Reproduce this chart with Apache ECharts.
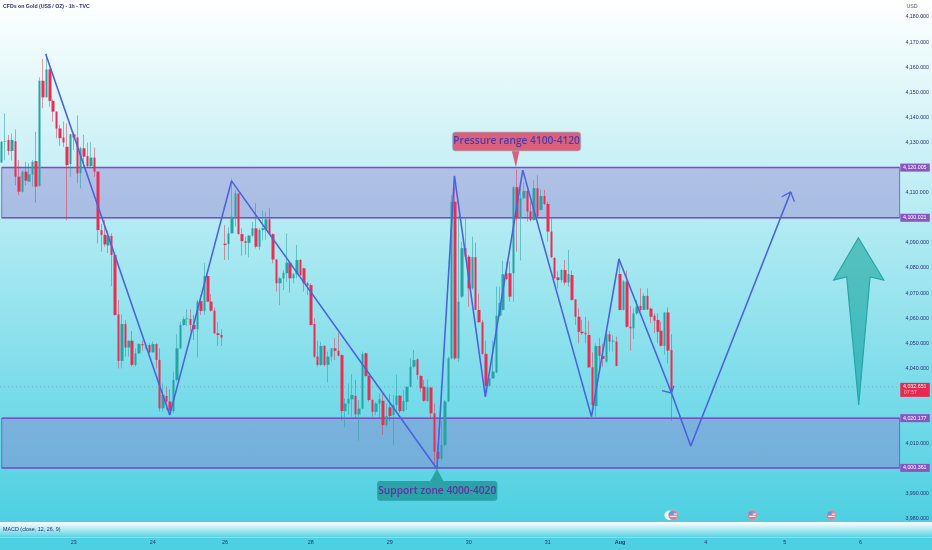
<!DOCTYPE html>
<html>
<head>
<meta charset="utf-8">
<style>
html,body{margin:0;padding:0;background:#4ed0e2}
#c{width:932px;height:550px;background:linear-gradient(#ffffff 0,#4dd0e2 522px,#4dd0e2 550px)}
</style>
<script src="https://cdn.jsdelivr.net/npm/echarts@6/dist/echarts.min.js"></script>
</head>
<body>
<div id="c"></div>
<script>
const opens=[
4122,4130.3,4131,4126.6,4130.5,4116.4,4110.4,4118.4,4114.4,4117.3,
4122.6,4112.7,4154.6,4148,4159.1,4146.6,4142.3,4135.6,4132,4128.3,
4121.4,4133.3,4132,4117.7,4127.7,4124.6,4120.6,4124,4118.4,4095.1,
4093.2,4089,4092.8,4085.2,4061.5,4043,4057.7,4048.3,4051,4041.4,
4046,4049.7,4049.2,4049.3,4046.4,4049.7,4043.4,4024.1,4029,4026.8,
4023,4035.4,4048,4057.3,4059.6,4059.7,4057.3,4055.6,4066.8,4062.9,
4076.8,4066.6,4063,4054,4053.3,4089.7,4089.5,4093.8,4100.4,4109.7,
4093.5,4090.7,4090,4092.9,4095.8,4088.5,4095.1,4095.4,4099.4,4093.5,
4083.4,4073.9,4075.9,4077.9,4082.1,4075.9,4077.5,4083.2,4079.9,4073.9,
4073.2,4057.7,4044.7,4041.4,4049,4041.4,4044.7,4048,4047,4045.3,
4023,4026,4027.7,4029,4021.7,4024,4046,4037,4027.4,4022.7,
4026,4027.1,4017.4,4024.5,4021.4,4025.4,4029.1,4023,4026.7,4032.7,
4040.7,4043.6,4037,4032.7,4027,4032.4,4022.1,4006.8,4004,4009.5,
4026.8,4044,4106.4,4044,4068.6,4087.9,4084.5,4071.9,4084.3,4063.3,
4058.4,4045.8,4033,4036,4038.4,4061,4063.3,4077.9,4077.9,4077.9,
4112.2,4099.8,4107.8,4110.7,4102.5,4099.1,4111.8,4103.1,4108.7,4105.5,
4094.5,4084,4076.3,4075.2,4079.2,4074.2,4077.2,4067.5,4060.6,4054.6,
4054.2,4053.3,4040.4,4025,4048.9,4045,4042.7,4053.6,4050.7,4050.7,
4077.6,4063.3,4074.6,4056.6,4056,4061.9,4064.9,4063.3,4068.9,4063.8,
4061,4059.3,4055,4049,4062.3,4047.3];
const closes=[
4130.3,4130.5,4126.6,4131,4116.4,4110.4,4118.4,4114.8,4117.3,4122.3,
4112.4,4154.6,4148,4159.1,4146.6,4142.3,4135.6,4131.7,4130,4121,
4133.3,4132,4117.7,4127.7,4124.4,4120.6,4124,4118.4,4095.1,4093.2,
4089.4,4092.8,4085.2,4061.3,4043,4057.7,4048.3,4051,4041.4,4046,
4049.7,4049.2,4049.3,4046.4,4049.7,4043.4,4024.1,4029.4,4026.8,4023.2,
4035.4,4048,4057.3,4059.6,4059.9,4057.3,4055.6,4066.6,4062.9,4076.8,
4066.6,4063,4054,4053.3,4052.3,4089.2,4093.8,4100.4,4109.7,4093.5,
4090.7,4090,4092.9,4095.8,4088.5,4095.1,4095.8,4099.4,4093.5,4083.4,
4073.9,4075.9,4078.1,4082.2,4075.9,4077.5,4083.2,4077.2,4073.9,4073,
4057.3,4044.7,4041.4,4048.9,4041.4,4044.7,4048,4047,4045.1,4023,
4026,4027.9,4029.4,4021.7,4024,4045.7,4037,4027.4,4022.7,4026,
4027.7,4017.4,4021,4021,4025.4,4029.1,4023,4027,4032.7,4040.7,
4043.3,4037.4,4032.1,4027.1,4032.4,4022.1,4006.8,4004,4009.5,4026.8,
4044,4106.4,4044,4066.6,4087.9,4084.5,4071.9,4084.3,4063.3,4058.4,
4045.8,4033,4036,4038.7,4061,4066,4077.5,4075.6,4068.6,4112.2,
4099.8,4107.8,4110.7,4102.5,4099.1,4111.8,4100.5,4108.7,4105.5,4094.5,
4084.3,4075.9,4075.2,4079.2,4074.2,4077.6,4067.3,4060.6,4054.6,4054,
4053.6,4040.4,4025.4,4048.9,4045,4043.8,4053.6,4050.7,4051,4041,
4063.3,4074.6,4056.6,4056,4061.9,4064.6,4063.3,4068.9,4063.5,4060.6,
4059,4054.6,4049,4062.3,4047.1,4030.7];
const lows=[
4122,4123,4125,4122.8,4113,4109,4110,4113,4114.4,4112.4,
4106,4112.4,4143.6,4148,4144.3,4138.3,4131.7,4128.6,4128.3,4099,
4116.4,4127,4113.7,4111.7,4120.3,4120.3,4120.3,4116.4,4089.8,4086.5,
4088.5,4085.9,4072.8,4061,4040,4040,4044.7,4044.7,4040.7,4040.7,
4045.7,4047,4047.6,4046,4046.4,4040,4022.8,4022.8,4023.4,4022.1,
4022.1,4034.7,4047.7,4057,4056.9,4054.6,4051.3,4044.4,4061.3,4061.3,
4066.6,4062.6,4053.6,4049,4049,4083.2,4083.2,4093.8,4096.5,4093.4,
4084.9,4085.2,4084.2,4092.5,4087.8,4087.2,4091,4091.1,4093.1,4081.8,
4070.6,4065.2,4071.2,4074.5,4070.2,4073.9,4075.9,4076.8,4070.6,4069.2,
4057,4044,4040.7,4041,4040.7,4034.4,4042.7,4043.3,4044.7,4019.2,
4016.5,4021.4,4020.8,4020,4011.2,4023.7,4036.7,4026.7,4020.8,4021.4,
4020,4013.5,4016.8,4018.8,4009.5,4022.1,4022.1,4022.7,4023.4,4032.4,
4040,4035.6,4030.7,4026.7,4026.7,4020,4001,4000.9,4003,4008.8,
4026.8,4043.6,4043.4,4042.7,4068,4083.9,4064.6,4071.3,4063.3,4058,
4045.4,4028.8,4032.7,4036,4038,4060.6,4063,4075.2,4066.6,4066.6,
4086.5,4083,4107.4,4098.5,4098.5,4098.9,4099.8,4102.9,4105.1,4090.5,
4083.9,4075.5,4071.9,4074.2,4073.2,4072.6,4067,4057.3,4050,4053.3,
4050,4040.3,4024.8,4020.8,4039.4,4040.7,4042.3,4046.7,4046.7,4040.8,
4063,4063,4056.3,4047,4051.7,4061.3,4062.6,4063.3,4063.2,4058,
4054,4050,4048.7,4045.4,4042,4019.2];
const highs=[
4130.5,4141.6,4133,4133.6,4135.2,4123,4119,4122.3,4121.7,4123,
4134.3,4156,4163.3,4165.5,4159.6,4147.2,4142.4,4137,4138.3,4137.6,
4133.3,4134,4140.8,4128.3,4133,4130,4130.3,4128,4118.4,4097.5,
4099.1,4095.1,4093.8,4085.9,4067.3,4061.5,4059.3,4051.3,4054.9,4048,
4050,4051,4050,4050,4050.7,4050,4048,4034,4032.7,4031.7,
4038.7,4053.6,4058.6,4060.6,4063.5,4063.5,4061.3,4067.3,4069.3,4081.9,
4077.2,4069.5,4064.3,4058.4,4055.6,4097.1,4096.2,4115.7,4111,4109.7,
4095.8,4092.5,4093.1,4098.4,4105.8,4095.8,4103,4102.2,4103.8,4093.8,
4083.4,4076.5,4079.2,4093.8,4082.1,4078,4089.2,4083.5,4080.1,4074.5,
4073.9,4060,4051,4050.6,4049.2,4046.7,4048,4052,4054,4045.6,
4028,4034,4037.8,4035.4,4027.4,4046.7,4046.3,4037.4,4027.7,4026.7,
4030,4030,4026,4029.8,4029.4,4037.4,4029.4,4031.4,4032.7,4044,
4047.3,4044,4037.4,4035.4,4035.6,4032.7,4026,4010,4019,4027.4,
4044.7,4109,4112.4,4100.7,4090.5,4099.8,4085.2,4092.5,4090.1,4069.7,
4059.3,4051,4036.1,4051,4072.6,4072.6,4082.9,4082.5,4082.5,4112.5,
4119.3,4111.8,4114,4111.1,4106.4,4115,4117,4111.4,4111.1,4106.4,
4099.8,4084.3,4078.6,4079.5,4083.2,4087.2,4079,4067.5,4063.9,4059.3,
4060.6,4059,4046.4,4050,4052,4049.8,4055.3,4054.9,4053.3,4052.7,
4083.9,4075.2,4079,4064.9,4063.9,4067.3,4071.9,4069.9,4071.9,4064.3,
4062,4062,4058.6,4062.3,4064.3,4053.6];

const barCount=262;
const dayTickBars=[21,44,65,90,113,136,159,180,205,228,250];
const dayTickText=['23','24','26','28','29','30','31','Aug','4','5','6'];

const priceMin=3980, priceMax=4180, priceStep=10;
const lastPrice=4032.651, countdown='07:57';
const zones=[[4100.021,4120.005],[4000.361,4020.177]];
const zoneTags=[4120.005,4100.021,4020.177,4000.361];

const waveA=[[12.8,4165.3],[48.9,4021.4],[66.9,4114.7],[126.7,4000],[131.8,4116.7],[140.8,4028.7],[151.7,4119],[171.7,4020.8],[179.7,4083.6],[195,4030.2]];
const waveABarbs=[[192.2,4031.1],[195,4030.2],[195.7,4033.1]];
const waveB=[[195,4030.2],[200.6,4009.1],[229.7,4110.3]];
const waveBBarbs=[[227.1,4108.4],[229.7,4110.3],[230.8,4106.4]];
const bigArrow=[[249.4,4092],[256.8,4075.2],[252.8,4076.4],[249.5,4025.4],[246,4076.4],[242.2,4075.2]];
const pressureBox=[131.2,168.6,4134.2,4126.6], pressureTip=[[148.5,4126.6],[149.7,4120.1],[150.7,4126.6]];
const supportBox=[109.3,144.3,3995.1,3987.3], supportTip=[[124.8,3995.1],[126.7,4000],[128.6,3995.1]];
const eventBars=[195.5,218.5,241.5], eventPrice=3981.5, moonBar=194.3;

const categories=Array.from({length:barCount},(_,i)=>{const k=dayTickBars.indexOf(i);return k<0?'':dayTickText[k];});
const fmtPrice=v=>v.toLocaleString('en-US',{minimumFractionDigits:3,maximumFractionDigits:3});
const pad=(a,n)=>a.concat(Array(n-a.length).fill('-'));
const UP='#27a3a2',DOWN='#ea2d50';
const AXISFONT='5.3px "Liberation Sans", sans-serif';
const NAVY='#2b2f78';
const CALLOUTFONT='600 10.2px "Open Sans", sans-serif';

function customSeries(data,render,z){
  return {type:'custom',coordinateSystem:'cartesian2d',xAxisIndex:1,yAxisIndex:0,z:z,silent:true,clip:false,animation:false,data:data,renderItem:render};
}
function polyline(points,color,z,width){
  return {type:'line',xAxisIndex:1,yAxisIndex:0,data:points,symbol:'none',silent:true,animation:false,z:z,
    lineStyle:{color:color,width:width||1.6}};
}
const poly=(api,pts)=>pts.map(p=>api.coord(p));

const chart=echarts.init(document.getElementById('c'),null,{renderer:'canvas'});
chart.setOption({
  animation:false,
  grid:{left:-0.72,width:901.3,top:17,height:502,containLabel:false},
  xAxis:[
    {type:'category',data:categories,boundaryGap:true,
      axisLine:{show:false},axisTick:{show:false},splitLine:{show:false},
      axisLabel:{interval:(i,v)=>v!=='',margin:21,fontSize:5.4,color:NAVY,fontFamily:'Liberation Sans',hideOverlap:false,
        formatter:v=>v==='Aug'?'{b|Aug}':v,rich:{b:{fontSize:5.4,fontWeight:'bold',color:NAVY}}}},
    {type:'value',min:-0.5,max:barCount-0.5,show:false}
  ],
  yAxis:[{type:'value',position:'right',min:priceMin,max:priceMax,interval:priceStep,
    axisLine:{show:false},axisTick:{show:false},splitLine:{show:false},
    axisLabel:{margin:5.5,fontSize:5.3,color:NAVY,fontFamily:'Liberation Sans',formatter:fmtPrice,showMinLabel:true,showMaxLabel:true}}],
  graphic:[
    {type:'rect',z:0,silent:true,shape:{x:0,y:522,width:932,height:15},
      style:{fill:new echarts.graphic.LinearGradient(0,0,0,1,[{offset:0,color:'#ffffff'},{offset:1,color:'#5ad3e4'}])}},
    {type:'rect',z:0,silent:true,shape:{x:0,y:537,width:932,height:1},style:{fill:'#86e0ec'}},
    {type:'rect',z:0,silent:true,shape:{x:903,y:2,width:18,height:10,r:2},style:{fill:'rgba(255,255,255,.85)'}},
    {type:'text',z:10,silent:true,style:{x:3,y:4.5,text:'CFDs on Gold (US$ / OZ) · 1h · TVC',fill:NAVY,font:'bold 5.2px "Liberation Sans", sans-serif'}},
    {type:'text',z:10,silent:true,style:{x:906.5,y:4.5,text:'USD',fill:'#555a80',font:AXISFONT}},
    {type:'text',z:10,silent:true,style:{x:3,y:527,text:'MACD (close, 12, 26, 9)',fill:NAVY,font:'5.4px "Liberation Sans", sans-serif'}}
  ],
  series:[
    customSeries(zones.map(z=>[0,z[0],z[1]]),(p,api)=>{
      const a=api.coord([0,api.value(2)]),b=api.coord([261.4,api.value(1)]);
      const r={x:a[0],y:a[1],width:b[0]-a[0],height:b[1]-a[1]};
      return {type:'group',children:[
        {type:'rect',shape:r,style:{fill:'rgba(145,110,200,.37)',stroke:'rgba(110,80,190,.75)',lineWidth:1}},
        {type:'line',shape:{x1:a[0],y1:a[1],x2:b[0],y2:a[1]},style:{stroke:'#7d4fc2',lineWidth:1.5}},
        {type:'line',shape:{x1:a[0],y1:b[1],x2:b[0],y2:b[1]},style:{stroke:'#7d4fc2',lineWidth:1.5}}
      ]};
    },1),
    {type:'line',xAxisIndex:1,yAxisIndex:0,data:[[-0.5,lastPrice],[261.4,lastPrice]],symbol:'none',silent:true,animation:false,z:1,
      lineStyle:{color:'rgba(110,130,150,.45)',width:1,type:[1,3]}},
    {type:'candlestick',xAxisIndex:0,yAxisIndex:0,z:2,silent:true,animation:false,barWidth:1,
      data:pad(opens.map((o,i)=>[o,closes[i],lows[i],highs[i]]),barCount),
      itemStyle:{color:'rgba(39,163,162,.5)',color0:'rgba(234,45,80,.5)',borderColor:'rgba(39,163,162,.55)',borderColor0:'rgba(234,45,80,.5)',borderWidth:1}},
    {type:'candlestick',xAxisIndex:0,yAxisIndex:0,z:3,silent:true,animation:false,barWidth:3,
      data:pad(opens.map((o,i)=>[o,closes[i],Math.min(o,closes[i]),Math.max(o,closes[i])]),barCount),
      itemStyle:{color:UP,color0:DOWN,borderColor:UP,borderColor0:DOWN,borderWidth:0}},
    polyline(waveA,'#4a62e0',4),
    polyline(waveABarbs,'#4a62e0',4,1.3),
    polyline(waveB,'#4a62e0',4),
    polyline(waveBBarbs,'#4a62e0',4,1.3),
    customSeries([[0,0]],(p,api)=>({type:'polygon',shape:{points:poly(api,bigArrow)},
      style:{fill:new echarts.graphic.LinearGradient(0,0,0,1,[{offset:0,color:'#57c2be'},{offset:1,color:'#37b7c0'}]),stroke:'#27a5a8',lineWidth:1.2}}),5),
    customSeries([[0,0]],(p,api)=>{
      const a=api.coord([pressureBox[0],pressureBox[2]]),b=api.coord([pressureBox[1],pressureBox[3]]);
      return {type:'group',children:[
        {type:'polygon',shape:{points:poly(api,pressureTip)},style:{fill:'#d9617b'}},
        {type:'rect',shape:{x:a[0],y:a[1],width:b[0]-a[0],height:b[1]-a[1],r:3},style:{fill:'#d9617b',stroke:'#7fd6df',lineWidth:0.6}},
        {type:'text',style:{x:(a[0]+b[0])/2,y:(a[1]+b[1])/2,text:'Pressure range 4100-4120',fill:'#4a3cb0',font:CALLOUTFONT,align:'center',verticalAlign:'middle'}}
      ]};
    },6),
    customSeries([[0,0]],(p,api)=>{
      const a=api.coord([supportBox[0],supportBox[2]]),b=api.coord([supportBox[1],supportBox[3]]);
      return {type:'group',children:[
        {type:'polygon',shape:{points:poly(api,supportTip)},style:{fill:'#2aa3a6'}},
        {type:'rect',shape:{x:a[0],y:a[1],width:b[0]-a[0],height:b[1]-a[1],r:3},style:{fill:'#2aa3a6'}},
        {type:'text',style:{x:(a[0]+b[0])/2,y:(a[1]+b[1])/2,text:'Support zone 4000-4020',fill:'#6a2ba6',font:CALLOUTFONT,align:'center',verticalAlign:'middle'}}
      ]};
    },6),
    customSeries(eventBars.map(b=>[b,eventPrice]),(p,api)=>{
      const c=api.coord([api.value(0),api.value(1)]),r=4.7;
      const kids=[];
      if(p.dataIndex===0){const m=api.coord([moonBar,eventPrice]);kids.push({type:'circle',shape:{cx:m[0],cy:m[1],r:4.7},style:{fill:'#f2fbff'}});}
      kids.push({type:'circle',shape:{cx:c[0],cy:c[1],r:r},style:{fill:'#e6788f',stroke:'#ef93a5',lineWidth:0.6}});
      kids.push({type:'rect',shape:{x:c[0]-3.5,y:c[1]-3.5,width:4,height:3.2},style:{fill:'#5f9ae0'}});
      kids.push({type:'rect',shape:{x:c[0]-3,y:c[1]+0.6,width:6.5,height:1},style:{fill:'#ffffff'}});
      kids.push({type:'rect',shape:{x:c[0]+0.5,y:c[1]-1.6,width:3.4,height:1},style:{fill:'#ffffff'}});
      return {type:'group',children:kids};
    },6),
    customSeries(zoneTags.map(v=>[261.6,v]),(p,api)=>{
      const c=api.coord([api.value(0),api.value(1)]);
      return {type:'group',children:[
        {type:'rect',shape:{x:c[0],y:c[1]-4,width:29.5,height:8},style:{fill:'#8a55c0'}},
        {type:'text',style:{x:c[0]+14.5,y:c[1],text:fmtPrice(api.value(1)),fill:'#ffffff',font:AXISFONT,align:'center',verticalAlign:'middle'}}
      ]};
    },7),
    customSeries([[261.6,lastPrice]],(p,api)=>{
      const c=api.coord([api.value(0),api.value(1)]);
      return {type:'group',children:[
        {type:'rect',shape:{x:c[0],y:c[1]-4,width:29.5,height:14},style:{fill:'#e8294f'}},
        {type:'text',style:{x:c[0]+14.5,y:c[1],text:fmtPrice(api.value(1)),fill:'#ffffff',font:AXISFONT,align:'center',verticalAlign:'middle'}},
        {type:'text',style:{x:c[0]+3.5,y:c[1]+6,text:countdown,fill:'#f7b8c4',font:AXISFONT,align:'left',verticalAlign:'middle'}}
      ]};
    },7)
  ]
});
</script>
</body>
</html>
